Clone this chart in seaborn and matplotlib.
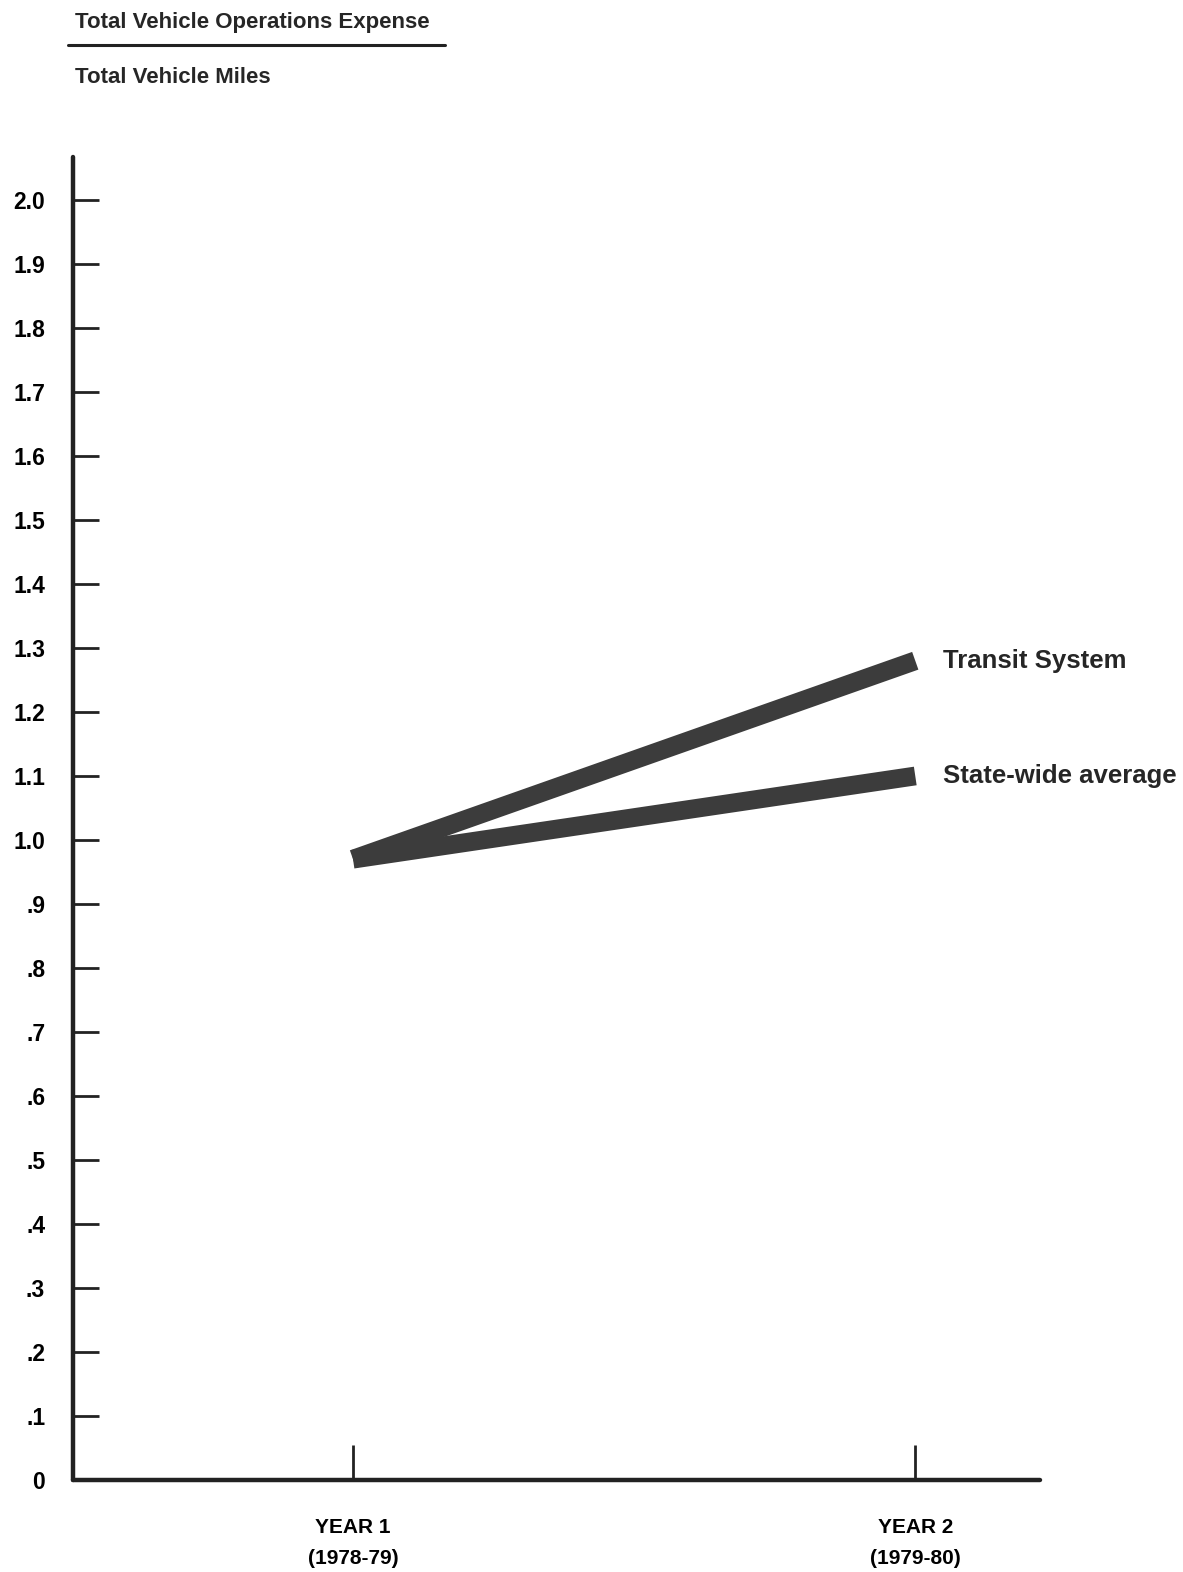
import pandas as pd
import matplotlib
matplotlib.use("Agg")
import matplotlib.pyplot as plt
import seaborn as sns

# data
years = ["YEAR 1\n(1978-79)", "YEAR 2\n(1979-80)"]
transit = [0.97, 1.28]
statewide = [0.97, 1.10]
series_names = ["Transit System", "State-wide average"]
ytick_vals = [round(0.1 * i, 1) for i in range(21)]
ytick_labels = ["0", ".1", ".2", ".3", ".4", ".5", ".6", ".7", ".8", ".9",
                "1.0", "1.1", "1.2", "1.3", "1.4", "1.5", "1.6", "1.7", "1.8", "1.9", "2.0"]

df = pd.DataFrame({
    "year": years * 2,
    "value": transit + statewide,
    "series": [series_names[0]] * 2 + [series_names[1]] * 2,
})

sns.set_style("white")
plt.rcParams["font.family"] = ["Liberation Sans", "DejaVu Sans"]
plt.rcParams["font.weight"] = "bold"

fig = plt.figure(figsize=(11.83, 15.72), dpi=100)
ax = fig.add_axes([0.0617, 0.0585, 0.8175, 0.8416])

sns.lineplot(data=df, x="year", y="value", hue="series",
             palette=["#3c3c3c", "#3c3c3c"], linewidth=13.5,
             legend=False, ax=ax, solid_capstyle="butt")

ax.set_xlim(-0.498, 1.222)
ax.set_ylim(0, 2.067)

ax.set_yticks(ytick_vals)
ax.set_yticklabels(ytick_labels, fontsize=16.5, fontweight="bold")
ax.set_xticks(range(len(years)))
ax.set_xticklabels(years, fontsize=15, fontweight="bold", linespacing=1.8)

ax.tick_params(axis="y", left=True, direction="in", length=19, width=2,
               pad=20, color="#222222", labelcolor="black")
ax.tick_params(axis="x", bottom=True, direction="in", length=25, width=2,
               pad=27, color="#222222", labelcolor="black")

sns.despine(ax=ax)
for side in ["left", "bottom"]:
    ax.spines[side].set_linewidth(3.2)
    ax.spines[side].set_color("#222222")
    ax.spines[side].set_capstyle("round")
ax.set_xlabel("")
ax.set_ylabel("")

# series labels at the right end of each line
for name, vals in zip(series_names, [transit, statewide]):
    ax.text(1.05, vals[-1], name, fontsize=18.5, fontweight="bold",
            va="center", ha="left", clip_on=False)

# fraction-style title at top
fig.text(0.0634, 0.986, "Total Vehicle Operations Expense", fontsize=16,
         fontweight="bold", va="center", ha="left")
fig.add_artist(plt.Line2D([0.0575, 0.376], [0.9714, 0.9714], color="#222222",
                          linewidth=2.2, transform=fig.transFigure))
fig.text(0.0634, 0.951, "Total Vehicle Miles", fontsize=16,
         fontweight="bold", va="center", ha="left")

plt.savefig("out.png", dpi=100)
